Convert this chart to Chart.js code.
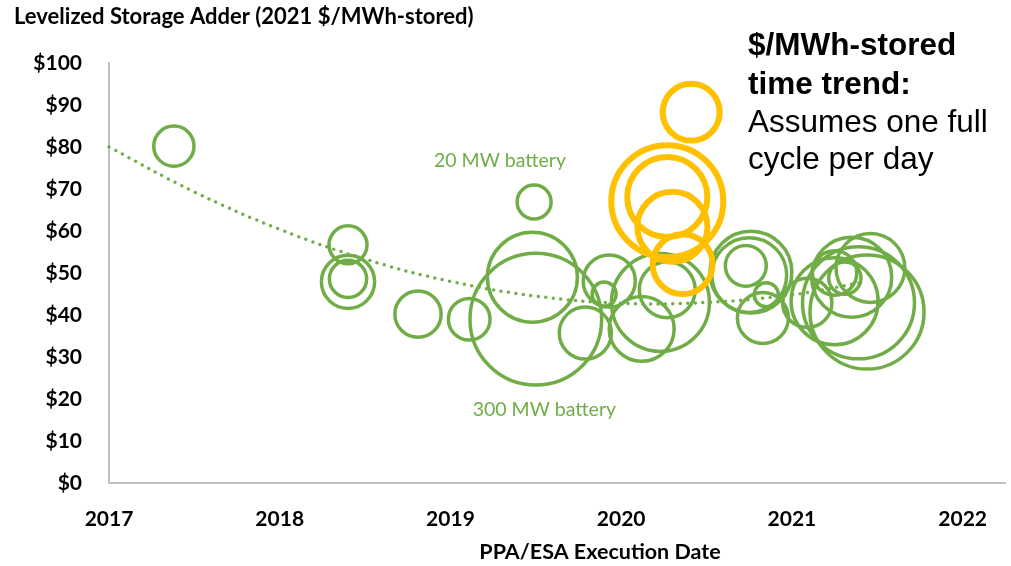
<!DOCTYPE html>
<html>
<head>
<meta charset="utf-8">
<script src="https://cdn.jsdelivr.net/npm/chart.js@4/dist/chart.umd.min.js"></script>
<style>
  body { margin: 0; background: #fff; }
  #caixa { width: 1011px; height: 566px; }
</style>
</head>
<body>
<div id="caixa"><canvas id="graficoBolhas"></canvas></div>
<script>
// projetos verdes: data de execucao (ano decimal), $/MWh-stored, tamanho MW
const verdeX = [2017.38, 2018.40, 2018.40, 2018.40, 2018.81, 2019.11, 2019.49, 2019.48, 2019.50, 2019.79,
  2019.93, 2019.90, 2020.12, 2020.23, 2020.27, 2020.73, 2020.76, 2020.75, 2020.85, 2020.83,
  2021.09, 2021.25, 2021.31, 2021.25, 2021.35, 2021.46, 2021.39, 2021.44];
const verdeY = [80.2, 56.7, 47.9, 48.6, 40.2, 39.0, 66.9, 49.0, 39.0, 35.7,
  48.1, 45.0, 36.7, 43.0, 46.0, 51.7, 50.2, 49.5, 44.8, 39.3,
  42.9, 43.3, 48.8, 50.0, 49.0, 51.2, 42.9, 40.7];
const verdeMW = [28, 25, 49, 24, 37, 30, 20, 140, 300, 47,
  47, 10, 73, 166, 54, 29, 116, 97, 10, 45,
  42, 131, 18, 34, 111, 82, 217, 225];

// projetos amarelos
const amareloX = [2020.41, 2020.27, 2020.27, 2020.30, 2020.36];
const amareloY = [88.3, 67.1, 68.1, 61.0, 52.1];
const amareloMW = [56, 217, 111, 85, 62];

// linha de tendencia pontilhada
const tendenciaX = [2017, 2017.5, 2018, 2018.5, 2019, 2019.5, 2020, 2020.5, 2021, 2021.43];
const tendenciaY = [80, 69.3, 60.4, 53.3, 48.0, 44.5, 42.8, 43.0, 44.8, 47.9];

const anos = [2017, 2018, 2019, 2020, 2021, 2022];

const verde = '#70AD47';
const amarelo = '#FFC000';

// area da bolha proporcional ao MW (20 MW ~ raio 17px)
const raio = mw => 17 * Math.sqrt(mw / 20);

const bolhas = (xs, ys, mws) => xs.map((x, i) => ({ x: x, y: ys[i], r: raio(mws[i]) }));

const textos = {
  id: 'textos',
  afterDraw(chart) {
    const c = chart.ctx;
    const sx = chart.scales.x, sy = chart.scales.y;
    c.save();
    c.fillStyle = '#000';
    c.textBaseline = 'alphabetic';
    c.textAlign = 'left';
    c.font = 'bold 22px Lato';
    c.fillText('Levelized Storage Adder (2021 $/MWh-stored)', 14, 24);

    c.textAlign = 'center';
    c.font = 'bold 21.5px Lato';
    c.fillText('PPA/ESA Execution Date', 600, 559);

    c.textAlign = 'left';
    c.font = 'bold 31.5px "Liberation Sans"';
    c.fillText('$/MWh-stored', 748, 55);
    c.fillText('time trend:', 748, 94);
    c.font = '31.5px "Liberation Sans"';
    c.fillText('Assumes one full', 748, 132);
    c.fillText('cycle per day', 748, 169);

    c.fillStyle = verde;
    c.textAlign = 'center';
    c.textBaseline = 'middle';
    c.font = '19.5px Lato';
    c.fillText('20 MW battery', sx.getPixelForValue(2019.29), sy.getPixelForValue(76.7));
    c.fillText('300 MW battery', sx.getPixelForValue(2019.55), sy.getPixelForValue(17.4));
    c.restore();
  }
};

new Chart(document.getElementById('graficoBolhas'), {
  type: 'bubble',
  data: {
    datasets: [
      {
        label: 'amarelo',
        data: bolhas(amareloX, amareloY, amareloMW),
        borderColor: amarelo,
        backgroundColor: 'rgba(0,0,0,0)',
        borderWidth: 6,
        order: 1
      },
      {
        type: 'line',
        label: 'tendencia',
        data: tendenciaX.map((x, i) => ({ x: x, y: tendenciaY[i] })),
        borderColor: verde,
        borderWidth: 3.5,
        borderDash: [0, 7.5],
        borderCapStyle: 'round',
        pointRadius: 0,
        tension: 0.4,
        fill: false,
        order: 2
      },
      {
        label: 'verde',
        data: bolhas(verdeX, verdeY, verdeMW),
        borderColor: verde,
        backgroundColor: 'rgba(0,0,0,0)',
        borderWidth: 3.5,
        order: 3
      }
    ]
  },
  options: {
    responsive: true,
    maintainAspectRatio: false,
    animation: false,
    events: [],
    clip: false,
    layout: { autoPadding: false, padding: { top: 63, left: 0, right: 0, bottom: 0 } },
    plugins: {
      legend: { display: false },
      tooltip: { enabled: false }
    },
    scales: {
      x: {
        type: 'linear',
        min: 2017,
        max: 2022.25,
        afterBuildTicks: s => { s.ticks = anos.map(v => ({ value: v })); },
        afterFit: s => { s.height = 83; },
        grid: { display: false, drawTicks: false },
        border: { color: '#BFBFBF', width: 2 },
        ticks: {
          padding: 24,
          color: '#000',
          font: { family: 'Lato', weight: 'bold', size: 21 },
          callback: v => v
        }
      },
      y: {
        min: 0,
        max: 100,
        afterFit: s => { s.width = 109; },
        grid: { display: false, drawTicks: false },
        border: { color: '#BFBFBF', width: 2 },
        ticks: {
          stepSize: 10,
          padding: 27,
          color: '#000',
          font: { family: 'Lato', weight: 'bold', size: 21 },
          callback: v => '$' + v
        }
      }
    }
  },
  plugins: [textos]
});
</script>
</body>
</html>
